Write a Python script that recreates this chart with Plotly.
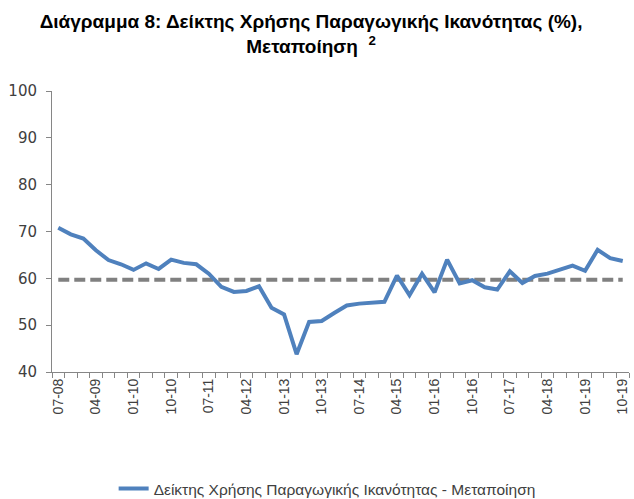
import plotly.graph_objects as go

quarters = [
    "07-08", "10-08",
    "01-09", "04-09", "07-09", "10-09",
    "01-10", "04-10", "07-10", "10-10",
    "01-11", "04-11", "07-11", "10-11",
    "01-12", "04-12", "07-12", "10-12",
    "01-13", "04-13", "07-13", "10-13",
    "01-14", "04-14", "07-14", "10-14",
    "01-15", "04-15", "07-15", "10-15",
    "01-16", "04-16", "07-16", "10-16",
    "01-17", "04-17", "07-17", "10-17",
    "01-18", "04-18", "07-18", "10-18",
    "01-19", "04-19", "07-19", "10-19",
]

capacity = [
    70.8, 69.4,
    68.5, 66.0, 63.9, 63.0,
    61.8, 63.2, 62.0, 64.0,
    63.3, 63.0, 61.0, 58.2,
    57.1, 57.3, 58.3, 53.7,
    52.3, 43.8, 50.7, 50.9,
    52.6, 54.2, 54.6, 54.8,
    55.0, 60.6, 56.4, 61.0,
    57.0, 64.0, 58.9, 59.6,
    58.1, 57.6, 61.5, 59.0,
    60.5, 61.0, 61.9, 62.7,
    61.6, 66.1, 64.3, 63.7,
]

average = [59.7] * len(quarters)

tick_labels = ["07-08", "04-09", "01-10", "10-10", "07-11", "04-12", "01-13", "10-13",
               "07-14", "04-15", "01-16", "10-16", "07-17", "04-18", "01-19", "10-19"]

series_name = "Δείκτης Χρήσης Παραγωγικής Ικανότητας - Μεταποίηση"

fig = go.Figure()
fig.add_trace(go.Scatter(
    x=quarters, y=average, mode="lines", showlegend=False,
    line=dict(color="#808080", width=4, dash="11px,5px"),
    hoverinfo="skip",
))
fig.add_trace(go.Scatter(
    x=quarters, y=capacity, mode="lines", name=series_name,
    line=dict(color="#4F81BD", width=4),
))

fig.update_layout(
    template="none",
    width=634, height=499,
    margin=dict(l=52, r=5, t=91, b=127, autoexpand=False),
    paper_bgcolor="white", plot_bgcolor="white",
    title=dict(
        text="Διάγραμμα 8: Δείκτης Χρήσης Παραγωγικής Ικανότητας (%),<br>Μεταποίηση  <sup>2</sup>",
        x=0.449, xanchor="center", xref="paper", y=0.943, yanchor="top",
        font=dict(family="Liberation Sans, Arial", size=19, color="black", weight="bold"),
    ),
    showlegend=True,
    legend=dict(
        orientation="h", xref="container", yref="container",
        x=0.516, xanchor="center", y=0.02, yanchor="middle",
        font=dict(family="Liberation Sans, Arial", size=15.5, color="#404040"),
        itemwidth=30, bgcolor="rgba(0,0,0,0)",
    ),
)

fig.update_xaxes(
    type="category",
    tickmode="array",
    tickvals=quarters,
    ticktext=[q if q in tick_labels else "" for q in quarters],
    tickson="boundaries",
    ticks="outside", ticklen=5, tickcolor="#868686",
    tickangle=-90,
    tickfont=dict(family="Liberation Sans, Arial", size=14, color="#404040"),
    showline=True, linecolor="#868686", linewidth=1,
    showgrid=False, zeroline=False, automargin=False,
    range=[-0.5, len(quarters) - 0.5],
)
fig.update_yaxes(
    range=[40, 100], dtick=10,
    ticks="outside", ticklen=5, tickcolor="#868686",
    tickfont=dict(family="DejaVu Sans, Verdana", size=15, color="#404040"),
    ticklabelstandoff=6,
    showline=True, linecolor="#868686", linewidth=1,
    showgrid=False, zeroline=False, automargin=False,
)

fig.write_html(
    "out.html",
    config={"displayModeBar": False},
    post_script="document.body.style.margin='0';document.body.style.overflow='hidden';",
)
